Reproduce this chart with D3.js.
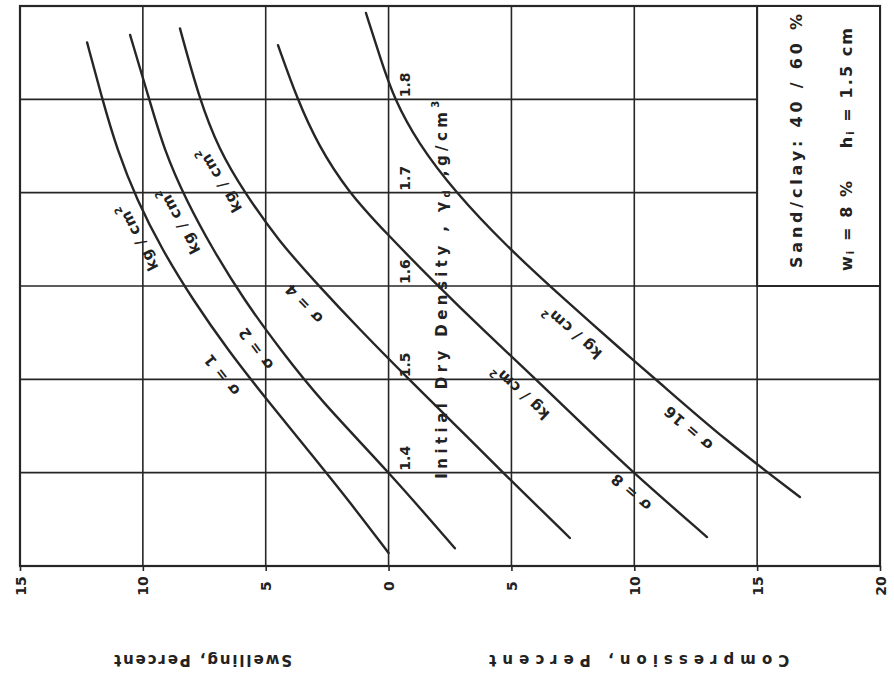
<!DOCTYPE html>
<html>
<head>
<meta charset="utf-8">
<script src="https://cdn.jsdelivr.net/npm/d3@7"></script>
<style>
  html, body { margin: 0; padding: 0; background: #fff; }
  svg { display: block; }
  text { font-family: "DejaVu Sans", "Liberation Sans", sans-serif; fill: #222; white-space: pre; }
</style>
</head>
<body>
<svg id="chart" width="894" height="679"></svg>
<script>
// Volume change in percent: swelling is negative, compression positive.
const percentTicks = [-15, -10, -5, 0, 5, 10, 15, 20];
const densityGrid = [1.3, 1.4, 1.5, 1.6, 1.7, 1.8, 1.9];
const densityTicks = [1.4, 1.5, 1.6, 1.7, 1.8];
const pressures = [1, 2, 4, 8, 16];

// Each curve: [initial dry density (g/cm3), volume change (%)]
const curveSigma1 = [
  [1.861, -12.27], [1.801, -11.66], [1.746, -11.05], [1.692, -10.24], [1.639, -9.22],
  [1.585, -7.96], [1.531, -6.53], [1.478, -4.95], [1.424, -3.28], [1.371, -1.65],
  [1.314, 0.0]
];
const curveSigma2 = [
  [1.869, -10.52], [1.801, -9.75], [1.746, -9.14], [1.692, -8.24], [1.639, -7.15],
  [1.585, -5.88], [1.531, -4.38], [1.478, -2.79], [1.401, 0.0], [1.319, 2.70]
];
const curveSigma4 = [
  [1.876, -8.49], [1.801, -7.71], [1.746, -6.90], [1.701, -5.88], [1.649, -4.50],
  [1.601, -2.87], [1.553, -1.16], [1.501, 0.79], [1.446, 2.91], [1.401, 4.62],
  [1.330, 7.38]
];
const curveSigma8 = [
  [1.858, -4.50], [1.801, -3.73], [1.751, -2.87], [1.701, -1.65], [1.658, -0.15],
  [1.601, 1.97], [1.553, 3.84], [1.501, 5.96], [1.446, 8.12], [1.401, 9.91],
  [1.331, 12.96]
];
const curveSigma16 = [
  [1.8925, -0.92], [1.842, -0.31], [1.801, 0.22], [1.753, 1.20], [1.701, 2.70],
  [1.644, 4.74], [1.585, 7.18], [1.531, 9.50], [1.499, 10.92], [1.435, 13.69],
  [1.374, 16.74]
];
const curves = [curveSigma1, curveSigma2, curveSigma4, curveSigma8, curveSigma16];

const svg = d3.select("#chart");
const ink = "#262626";

const x = d3.scaleLinear().domain([-15, 20]).range([20, 880]);
const y = d3.scaleLinear().domain([1.3, 1.9]).range([566, 6]);

// grid
const grid = svg.append("g");
grid.selectAll("line.v").data(percentTicks).join("line")
  .attr("x1", d => x(d)).attr("x2", d => x(d))
  .attr("y1", y(1.9)).attr("y2", y(1.3))
  .attr("stroke", ink).attr("stroke-width", 1.6);
grid.selectAll("line.h").data(densityGrid).join("line")
  .attr("x1", x(-15)).attr("x2", x(20))
  .attr("y1", d => y(d)).attr("y2", d => y(d))
  .attr("stroke", ink).attr("stroke-width", 1.6);

// frame
svg.append("rect")
  .attr("x", x(-15)).attr("y", y(1.9))
  .attr("width", x(20) - x(-15)).attr("height", y(1.3) - y(1.9))
  .attr("fill", "none").attr("stroke", ink).attr("stroke-width", 2.2);

// legend box in the top-right cell block
svg.append("rect")
  .attr("x", x(15)).attr("y", y(1.9))
  .attr("width", x(20) - x(15)).attr("height", y(1.6) - y(1.9))
  .attr("fill", "#fff").attr("stroke", ink).attr("stroke-width", 2);

const legendX1 = (x(15) + x(20)) / 2 - 22;
const legendX2 = (x(15) + x(20)) / 2 + 27;
svg.append("text")
  .attr("transform", `translate(${legendX1},${y(1.6) - 18}) rotate(-90)`)
  .attr("dominant-baseline", "central")
  .attr("font-size", 16).attr("font-weight", "bold")
  .attr("textLength", 254).attr("lengthAdjust", "spacing")
  .text("Sand/clay: 40 / 60 %");
const lg2 = svg.append("text")
  .attr("transform", `translate(${legendX2},${y(1.6) - 15}) rotate(-90)`)
  .attr("dominant-baseline", "central")
  .attr("font-size", 16).attr("font-weight", "bold")
  .attr("textLength", 243).attr("lengthAdjust", "spacing");
lg2.append("tspan").text("w");
lg2.append("tspan").attr("font-size", 10).attr("dy", 4).text("i");
lg2.append("tspan").attr("dy", -4).text(" = 8 %    h");
lg2.append("tspan").attr("font-size", 10).attr("dy", 4).text("i");
lg2.append("tspan").attr("dy", -4).text(" = 1.5 cm");

// percent axis along the bottom edge
const axis = svg.append("g")
  .attr("transform", `translate(0,${y(1.3)})`)
  .call(d3.axisBottom(x).tickValues(percentTicks).tickSize(5).tickSizeOuter(0)
    .tickFormat(d => Math.abs(d)));
axis.select(".domain").remove();
axis.selectAll(".tick line").attr("stroke", ink).attr("stroke-width", 1.6);
axis.selectAll(".tick text")
  .attr("y", 0).attr("dy", null)
  .attr("transform", "translate(0,20) rotate(-90)")
  .attr("text-anchor", "middle")
  .attr("dominant-baseline", "central")
  .attr("font-size", 14).attr("font-weight", "bold")
  .attr("font-family", "\"DejaVu Sans\", sans-serif")
  .attr("fill", ink);

// axis titles, set upside down under each half of the axis
svg.append("text")
  .attr("transform", `translate(${x(-7.55)},660) rotate(180)`)
  .attr("text-anchor", "middle").attr("dominant-baseline", "central")
  .attr("font-size", 15).attr("font-weight", "bold")
  .attr("textLength", 178).attr("lengthAdjust", "spacing")
  .text("Swelling, Percent");
svg.append("text")
  .attr("transform", `translate(${x(10.2)},660) rotate(180)`)
  .attr("text-anchor", "middle").attr("dominant-baseline", "central")
  .attr("font-size", 15).attr("font-weight", "bold")
  .attr("textLength", 300).attr("lengthAdjust", "spacing")
  .text("Compression, Percent");

// density tick labels beside the zero line
svg.selectAll("text.dens").data(densityTicks).join("text")
  .attr("class", "dens")
  .attr("transform", d => `translate(${x(0) + 16},${y(d) - 2}) rotate(-90)`)
  .attr("text-anchor", "start").attr("dominant-baseline", "central")
  .attr("font-size", 14).attr("font-weight", "bold")
  .text(d => d.toFixed(1));

// density axis title
const dt = svg.append("text")
  .attr("transform", `translate(${x(0) + 53},${y(1.4) + 6}) rotate(-90)`)
  .attr("dominant-baseline", "central")
  .attr("font-size", 15).attr("font-weight", "bold")
  .attr("textLength", 378).attr("lengthAdjust", "spacing");
dt.append("tspan").text("Initial Dry Density , γ");
dt.append("tspan").attr("font-size", 10).attr("dy", 4).text("d");
dt.append("tspan").attr("dy", -4).text(" ,g/cm");
dt.append("tspan").attr("font-size", 10).attr("dy", -7).text("3");

// pressure curves
const line = d3.line()
  .x(d => x(d[1])).y(d => y(d[0]))
  .curve(d3.curveBasis);
svg.append("g").selectAll("path").data(curves).join("path")
  .attr("d", line)
  .attr("fill", "none").attr("stroke", ink).attr("stroke-width", 2.4)
  .attr("stroke-linecap", "round");

// curve labels, written along each curve (reading upward-left)
const labelLayout = [
  { i: 0, kind: "s", at: 1.518, off: 20 },
  { i: 0, kind: "u", at: 1.660, off: 16 },
  { i: 1, kind: "s", at: 1.545, off: 19 },
  { i: 1, kind: "u", at: 1.678, off: 16 },
  { i: 2, kind: "s", at: 1.598, off: 23 },
  { i: 2, kind: "u", at: 1.722, off: 15 },
  { i: 3, kind: "s", at: 1.392, off: 16 },
  { i: 3, kind: "u", at: 1.502, off: 20 },
  { i: 4, kind: "s", at: 1.460, off: 15 },
  { i: 4, kind: "u", at: 1.566, off: 19 }
];

function pointAt(curve, dens) {
  const pts = curve.map(d => [x(d[1]), y(d[0])]);
  const yy = y(dens);
  for (let k = 0; k < pts.length - 1; k++) {
    const a = pts[k], b = pts[k + 1];
    if ((yy - a[1]) * (yy - b[1]) <= 0) {
      const t = (yy - a[1]) / (b[1] - a[1]);
      return { p: [a[0] + t * (b[0] - a[0]), yy], dir: [a[0] - b[0], a[1] - b[1]] };
    }
  }
  return { p: pts[0], dir: [pts[0][0] - pts[1][0], pts[0][1] - pts[1][1]] };
}

const labels = svg.append("g");
labelLayout.forEach(L => {
  const { p, dir } = pointAt(curves[L.i], L.at);
  const len = Math.hypot(dir[0], dir[1]);
  const tx = dir[0] / len, ty = dir[1] / len;
  const cx = p[0] + ty * L.off, cy = p[1] - tx * L.off;
  const ang = Math.atan2(ty, tx) * 180 / Math.PI;
  const t = labels.append("text")
    .attr("transform", `translate(${cx},${cy}) rotate(${ang})`)
    .attr("text-anchor", "middle").attr("dominant-baseline", "central")
    .attr("font-size", 15).attr("font-weight", "bold")
    .attr("letter-spacing", 0.6);
  if (L.kind === "s") {
    t.text(`σ = ${pressures[L.i]}`);
  } else {
    t.append("tspan").text("kg / cm");
    t.append("tspan").attr("font-size", 10).attr("dy", -6).text("2");
  }
});
</script>
</body>
</html>
